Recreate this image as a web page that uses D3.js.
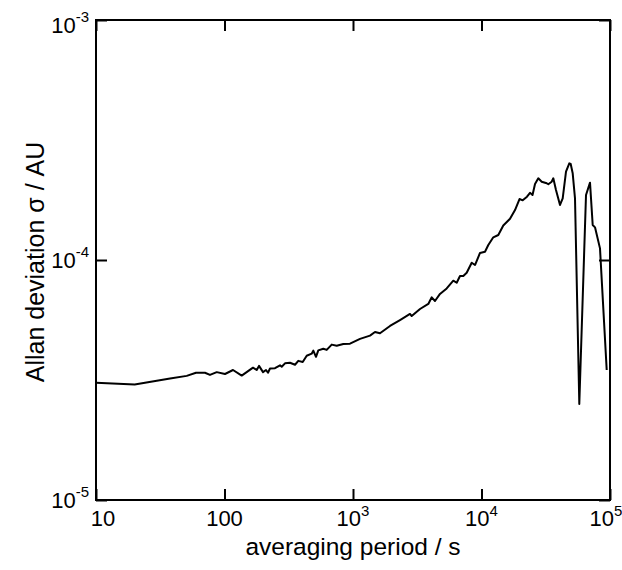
<!DOCTYPE html>
<html>
<head>
<meta charset="utf-8">
<script src="https://cdn.jsdelivr.net/npm/d3@7"></script>
<style>
  html, body { margin: 0; padding: 0; background: #fff; }
  text { font-family: "Liberation Sans", Arial, Helvetica, sans-serif; fill: #000; }
</style>
</head>
<body>
<svg id="chart" width="622" height="570"></svg>
<script>
// averaging period tau (s)
const tau = [10, 20, 37.7, 50.8, 60.0, 70.5, 77.1, 87.0, 100.9, 116.5,
  136.1, 166.7, 178.1, 185.6, 199.4, 210.4, 218.0, 226.0, 247.2, 270.4,
  278.7, 295.6, 323.3, 353.7, 375.2, 406.2, 436.2, 477.0, 491.0, 515.3,
  537.0, 587.4, 624.2, 682.8, 746.7, 840.6, 947.7, 1134, 1356, 1483,
  1622, 1941, 2321, 2777, 2863, 3322, 3855, 4099, 4346, 4753,
  5360, 6033, 6412, 6802, 7218, 7670, 8391, 8901, 9735, 10647,
  11297, 12355, 13513, 14775, 16672, 18230, 19760, 20925, 22600, 23850,
  24950, 26090, 27670, 29410, 32170, 33100, 35180, 36210, 37990, 40830,
  42850, 45460, 48230, 49450, 51250, 53410, 57690, 65060, 69890, 73350,
  76440, 83590, 94260];
// Allan deviation sigma (AU)
const sigma = [3.08e-5, 3.03e-5, 3.21e-5, 3.29e-5, 3.39e-5, 3.39e-5, 3.32e-5, 3.41e-5, 3.35e-5, 3.48e-5,
  3.30e-5, 3.56e-5, 3.48e-5, 3.62e-5, 3.41e-5, 3.48e-5, 3.39e-5, 3.53e-5, 3.54e-5, 3.64e-5,
  3.59e-5, 3.71e-5, 3.73e-5, 3.66e-5, 3.80e-5, 3.76e-5, 3.99e-5, 4.07e-5, 4.19e-5, 3.95e-5,
  4.20e-5, 4.27e-5, 4.22e-5, 4.44e-5, 4.39e-5, 4.47e-5, 4.48e-5, 4.69e-5, 4.84e-5, 5.01e-5,
  4.95e-5, 5.31e-5, 5.62e-5, 5.96e-5, 5.84e-5, 6.25e-5, 6.56e-5, 6.99e-5, 6.75e-5, 7.22e-5,
  7.61e-5, 8.20e-5, 8.04e-5, 8.58e-5, 8.58e-5, 8.85e-5, 9.74e-5, 9.53e-5, 1.070e-4, 1.083e-4,
  1.155e-4, 1.243e-4, 1.271e-4, 1.392e-4, 1.485e-4, 1.615e-4, 1.795e-4, 1.773e-4, 1.835e-4, 1.905e-4,
  1.866e-4, 2.074e-4, 2.190e-4, 2.120e-4, 2.088e-4, 2.068e-4, 2.120e-4, 2.190e-4, 1.957e-4, 1.695e-4,
  1.807e-4, 2.333e-4, 2.528e-4, 2.512e-4, 2.297e-4, 1.807e-4, 2.512e-5, 1.866e-4, 2.100e-4, 1.399e-4,
  1.368e-4, 1.118e-4, 3.48e-5];

const xTicks = [10, 100, 1e3, 1e4, 1e5];
const xTickBase = ["10", "100", "10", "10", "10"];
const xTickExp = ["", "", "3", "4", "5"];
const yTicks = [1e-5, 1e-4, 1e-3];
const yTickBase = ["10", "10", "10"];
const yTickExp = ["-5", "-4", "-3"];
const xTitle = "averaging period / s";
const yTitle = "Allan deviation σ / AU";

const margin = {left: 96, right: 12, top: 20, bottom: 70};
const W = 622, H = 570;
const svg = d3.select("#chart");
const x = d3.scaleLog().domain([10, 1e5]).range([margin.left, W - margin.right]);
const y = d3.scaleLog().domain([1e-5, 1e-3]).range([H - margin.bottom, margin.top]);

const data = tau.map((t, i) => ({t: t, s: sigma[i]}));

// data line
svg.append("path")
  .datum(data)
  .attr("fill", "none")
  .attr("stroke", "#000")
  .attr("stroke-width", 2)
  .attr("stroke-linejoin", "round")
  .attr("d", d3.line().x(d => x(d.t)).y(d => y(d.s)));

// axes with inward ticks on all four sides
const tk = 11;
const gB = svg.append("g").attr("transform", `translate(0,${y(1e-5)})`)
  .call(d3.axisBottom(x).tickValues(xTicks).tickSize(-tk).tickFormat(""));
const gT = svg.append("g").attr("transform", `translate(0,${y(1e-3)})`)
  .call(d3.axisTop(x).tickValues(xTicks).tickSize(-tk).tickFormat(""));
const gL = svg.append("g").attr("transform", `translate(${x(10)},0)`)
  .call(d3.axisLeft(y).tickValues(yTicks).tickSize(-tk).tickFormat(""));
const gR = svg.append("g").attr("transform", `translate(${x(1e5)},0)`)
  .call(d3.axisRight(y).tickValues(yTicks).tickSize(-tk).tickFormat(""));
[gB, gT, gL, gR].forEach(g => {
  g.select(".domain").remove();
  g.selectAll(".tick line").attr("stroke", "#000").attr("stroke-width", 2);
});

// frame
svg.append("rect")
  .attr("x", x(10)).attr("y", y(1e-3))
  .attr("width", x(1e5) - x(10)).attr("height", y(1e-5) - y(1e-3))
  .attr("fill", "none").attr("stroke", "#000").attr("stroke-width", 2);

// x tick labels
const xShift = [7, 0, 0, 0, -4];
xTicks.forEach((v, i) => {
  const t = svg.append("text")
    .attr("x", x(v) + xShift[i]).attr("y", y(1e-5) + 26)
    .attr("text-anchor", "middle").attr("font-size", 22);
  t.append("tspan").text(xTickBase[i]);
  if (xTickExp[i]) t.append("tspan").attr("dy", -10).attr("font-size", 15).text(xTickExp[i]);
});

// y tick labels
const yShift = [8, 8, 13];
yTicks.forEach((v, i) => {
  const t = svg.append("text")
    .attr("x", x(10) - 7).attr("y", y(v) + yShift[i])
    .attr("text-anchor", "end").attr("font-size", 22);
  t.append("tspan").text(yTickBase[i]);
  t.append("tspan").attr("dy", -11).attr("font-size", 15).text(yTickExp[i]);
});

// titles
svg.append("text")
  .attr("x", (x(10) + x(1e5)) / 2).attr("y", 555)
  .attr("text-anchor", "middle").attr("font-size", 24.5).text(xTitle);
svg.append("text")
  .attr("transform", `translate(44,${(y(1e-5) + y(1e-3)) / 2 + 2}) rotate(-90)`)
  .attr("text-anchor", "middle").attr("font-size", 25).text(yTitle);
</script>
</body>
</html>
